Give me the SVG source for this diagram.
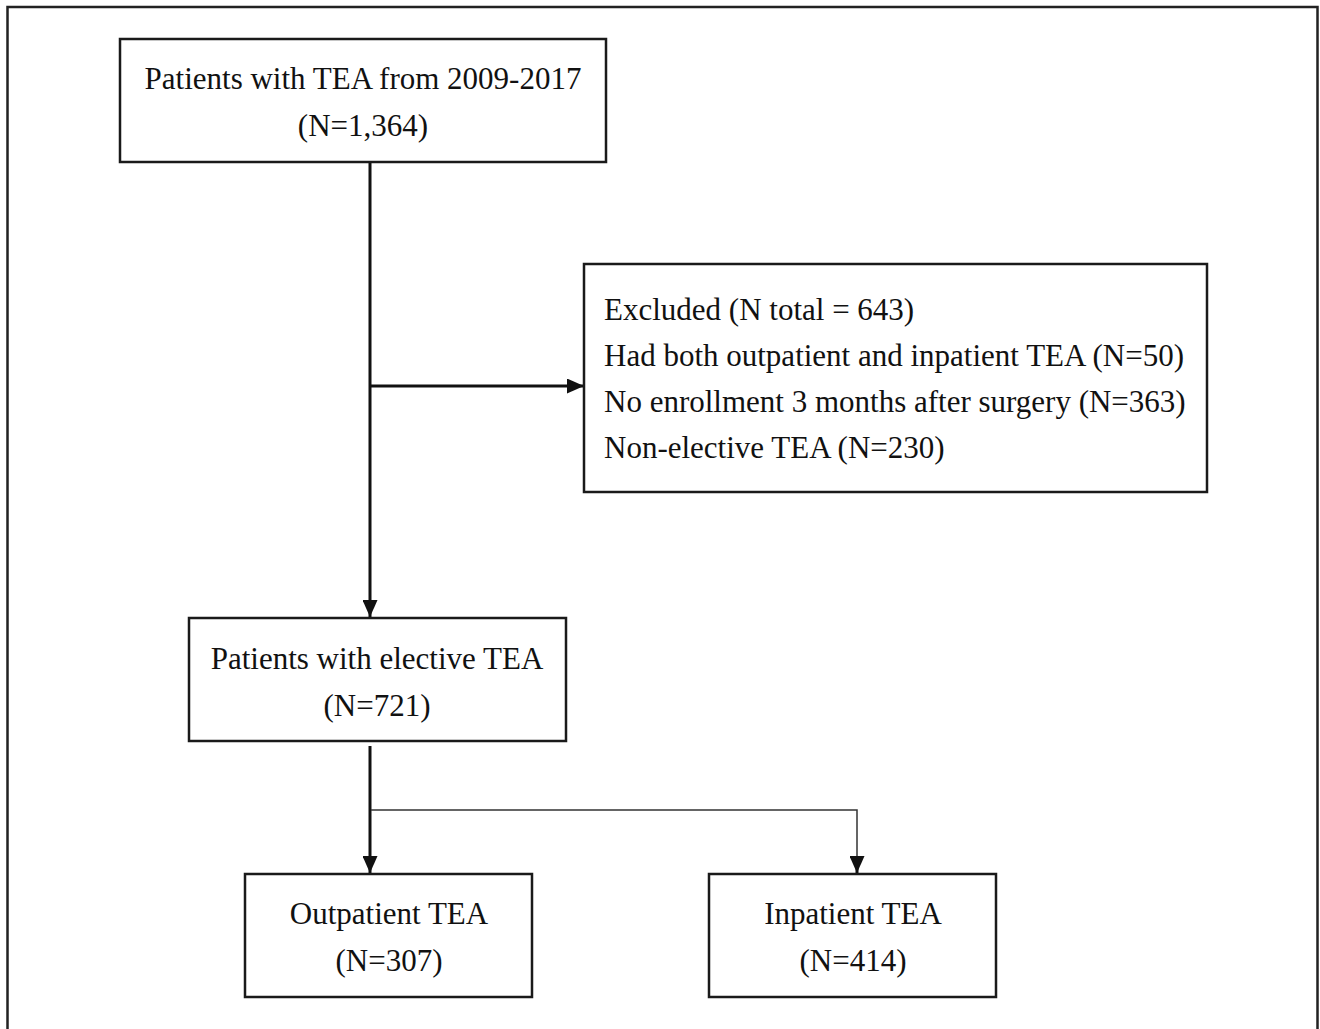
<svg xmlns="http://www.w3.org/2000/svg" width="1320" height="1029" viewBox="0 0 1320 1029">
<style>
.box{fill:#fff;stroke:#1a1a1a;stroke-width:2.5}
.t{font-family:"Liberation Serif","Times New Roman",serif;font-size:31px;fill:#111}
.c{text-anchor:middle}
.ln{stroke:#111;stroke-width:3;fill:none}
.thin{stroke:#333;stroke-width:1.5;fill:none}
</style>
<defs>
<marker id="ah" viewBox="0 0 17 15" refX="17" refY="7.5" markerWidth="17" markerHeight="15" markerUnits="userSpaceOnUse" orient="auto">
<path d="M0,0 L17,7.5 L0,15 Z" fill="#111"/>
</marker>
</defs>
<rect width="1320" height="1029" fill="#fff"/>
<path d="M7.5,1029 V7 H1317.5 V1029" fill="none" stroke="#222" stroke-width="2.5"/>
<g id="connectors">
<line class="ln" x1="370" y1="162" x2="370" y2="617" marker-end="url(#ah)"/>
<line class="ln" x1="370" y1="386" x2="584" y2="386" marker-end="url(#ah)"/>
<line class="ln" x1="370" y1="746" x2="370" y2="873" marker-end="url(#ah)"/>
<polyline class="thin" points="371,810 857,810 857,860"/>
<line class="ln" x1="857" y1="856" x2="857" y2="873" marker-end="url(#ah)"/>
</g>
<g id="n1">
<rect class="box" x="120" y="39" width="486" height="123"/>
<text class="t c" x="363" y="89">Patients with TEA from 2009-2017</text>
<text class="t c" x="363" y="136">(N=1,364)</text>
</g>
<g id="n2">
<rect class="box" x="584" y="264" width="623" height="228"/>
<text class="t" x="604" y="320">Excluded (N total = 643)</text>
<text class="t" x="604" y="366">Had both outpatient and inpatient TEA (N=50)</text>
<text class="t" x="604" y="412">No enrollment 3 months after surgery (N=363)</text>
<text class="t" x="604" y="458">Non-elective TEA (N=230)</text>
</g>
<g id="n3">
<rect class="box" x="189" y="618" width="377" height="123"/>
<text class="t c" x="377" y="669">Patients with elective TEA</text>
<text class="t c" x="377" y="716">(N=721)</text>
</g>
<g id="n4">
<rect class="box" x="245" y="874" width="287" height="123"/>
<text class="t c" x="389" y="924">Outpatient TEA</text>
<text class="t c" x="389" y="971">(N=307)</text>
</g>
<g id="n5">
<rect class="box" x="709" y="874" width="287" height="123"/>
<text class="t c" x="853" y="924">Inpatient TEA</text>
<text class="t c" x="853" y="971">(N=414)</text>
</g>
</svg>
